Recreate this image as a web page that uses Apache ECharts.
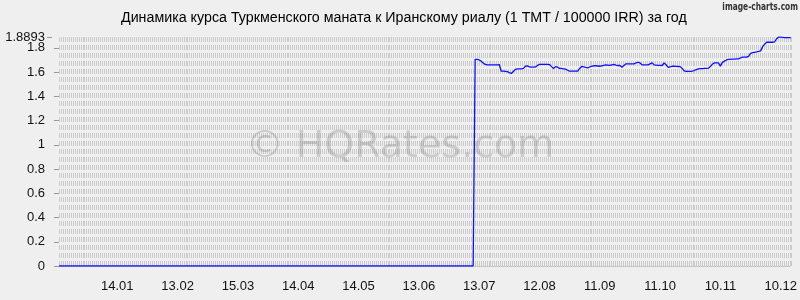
<!DOCTYPE html>
<html>
<head>
<meta charset="utf-8">
<script src="https://cdn.jsdelivr.net/npm/echarts@6/dist/echarts.min.js"></script>
<style>
html,body{margin:0;padding:0;background:#efefef;}
#chart{width:800px;height:300px;}
</style>
</head>
<body>
<div id="chart"></div>
<script>
// Daily categories: 16.12.2022 .. 15.12.2023 (365 days)
var startDate = [2022, 11, 16];
var dayCount = 365;
var categories = [];
(function () {
  var d = new Date(Date.UTC(startDate[0], startDate[1], startDate[2]));
  for (var i = 0; i < dayCount; i++) {
    var dd = ('0' + d.getUTCDate()).slice(-2);
    var mm = ('0' + (d.getUTCMonth() + 1)).slice(-2);
    categories.push(dd + '.' + mm);
    d = new Date(d.getTime() + 86400000);
  }
})();

var titleText = 'Динамика курса Туркменского маната к Иранскому риалу (1 TMT / 100000 IRR) за год';

var yTickValues = [0, 0.2, 0.4, 0.6, 0.8, 1, 1.2, 1.4, 1.6, 1.8];
var yMaxTick = [1.8893];
var yMax = 1.8893;

// first 207 days are shown as 0
var rates = [
0,0,0,0,0,0,0,0,0,0,0,0,0,0,0,0,0,0,0,0,0,0,0,
0,0,0,0,0,0,0,0,0,0,0,0,0,0,0,0,0,0,0,0,0,0,0,
0,0,0,0,0,0,0,0,0,0,0,0,0,0,0,0,0,0,0,0,0,0,0,
0,0,0,0,0,0,0,0,0,0,0,0,0,0,0,0,0,0,0,0,0,0,0,
0,0,0,0,0,0,0,0,0,0,0,0,0,0,0,0,0,0,0,0,0,0,0,
0,0,0,0,0,0,0,0,0,0,0,0,0,0,0,0,0,0,0,0,0,0,0,
0,0,0,0,0,0,0,0,0,0,0,0,0,0,0,0,0,0,0,0,0,0,0,
0,0,0,0,0,0,0,0,0,0,0,0,0,0,0,0,0,0,0,0,0,0,0,
0,0,0,0,0,0,0,0,0,0,0,0,0,0,0,0,0,0,0,0,0,0,0,
1.705,1.705,1.70,1.69,1.675,1.663,1.66,1.66,1.66,1.66,
1.66,1.66,1.662,1.607,1.607,1.605,1.603,1.595,1.588,1.605,
1.622,1.627,1.627,1.627,1.63,1.648,1.652,1.642,1.64,1.64,
1.642,1.655,1.663,1.664,1.664,1.663,1.663,1.662,1.645,1.63,
1.645,1.64,1.63,1.63,1.627,1.624,1.615,1.607,1.607,1.607,
1.607,1.607,1.63,1.646,1.642,1.638,1.635,1.642,1.648,1.652,
1.652,1.65,1.648,1.652,1.656,1.66,1.658,1.655,1.66,1.663,
1.657,1.654,1.654,1.64,1.655,1.668,1.668,1.668,1.668,1.668,
1.675,1.681,1.675,1.66,1.66,1.66,1.66,1.668,1.676,1.66,
1.658,1.656,1.655,1.654,1.675,1.66,1.638,1.643,1.648,1.649,
1.647,1.646,1.645,1.63,1.61,1.605,1.605,1.606,1.607,1.613,
1.62,1.627,1.628,1.629,1.63,1.631,1.632,1.645,1.665,1.676,
1.676,1.676,1.649,1.68,1.69,1.70,1.704,1.705,1.706,1.707,
1.708,1.709,1.718,1.723,1.723,1.723,1.73,1.755,1.76,1.763,
1.766,1.77,1.775,1.81,1.83,1.846,1.846,1.846,1.846,1.85,
1.875,1.8893,1.888,1.886,1.884,1.884,1.884,1.884
];

var gridLeft = 59, gridRight = 2, gridTop = 37, gridBottom = 34;
var patternWidth = 800 - gridLeft - gridRight;

function yAxisCfg(values) {
  return {
    type: 'value',
    position: 'left',
    min: 0,
    max: yMax,
    offset: 7,
    axisLine: {show: false},
    axisTick: {show: true, length: 5, lineStyle: {color: '#999'}, customValues: values},
    axisLabel: {color: '#111', fontSize: 13, margin: 7, customValues: values,
      showMaxLabel: true, showMinLabel: true, hideOverlap: false,
      formatter: function (v) { return String(v); }},
    splitLine: {show: false}
  };
}

var chart = echarts.init(document.getElementById('chart'), null, {renderer: 'canvas'});
chart.setOption({
  backgroundColor: '#efefef',
  animation: false,
  textStyle: {fontFamily: '"Liberation Sans", Arial, sans-serif'},
  title: {
    text: titleText,
    left: 116,
    top: 6,
    textStyle: {fontSize: 14.25, fontWeight: 'normal', color: '#000', fontFamily: '"Liberation Sans", Arial, sans-serif'}
  },
  graphic: [
    {
      type: 'text', z: 1, silent: true,
      style: {
        text: '© HQRates.com', x: 400, y: 147,
        align: 'center', verticalAlign: 'middle',
        font: '38px "DejaVu Sans", sans-serif',
        fill: 'rgba(100,100,100,0.25)'
      }
    },
    {
      type: 'text', z: 5, silent: true,
      x: 798, y: 2, scaleX: 0.68,
      style: {
        text: 'image-charts.com', x: 0, y: 0,
        align: 'right', verticalAlign: 'top',
        font: 'bold 11px "DejaVu Sans", sans-serif',
        fill: '#333'
      }
    }
  ],
  grid: {left: gridLeft, right: gridRight, top: gridTop, bottom: gridBottom, containLabel: false},
  xAxis: [{
    type: 'category',
    data: categories,
    boundaryGap: false,
    offset: 9,
    axisLine: {show: true, lineStyle: {color: '#bdbdbd', type: [1, 1], width: 1}},
    axisTick: {show: false},
    axisLabel: {
      interval: function (index) { return index % 30 === 29; },
      color: '#111', fontSize: 13, margin: 5
    },
    splitLine: {show: false}
  }, {
    // background hatching of the plot area
    type: 'value',
    position: 'top',
    min: 0,
    max: patternWidth,
    interval: 2,
    axisLine: {show: false},
    axisTick: {show: false},
    axisLabel: {show: false},
    splitLine: {show: true, lineStyle: {color: '#cbcbcb', width: 1, type: [5, 3]}}
  }],
  yAxis: [yAxisCfg(yTickValues), yAxisCfg(yMaxTick)],
  series: [{
    type: 'line',
    data: rates,
    xAxisIndex: 0,
    yAxisIndex: 0,
    showSymbol: false,
    symbol: 'none',
    z: 3,
    lineStyle: {color: '#1010ff', width: 1.3}
  }]
});
</script>
</body>
</html>
